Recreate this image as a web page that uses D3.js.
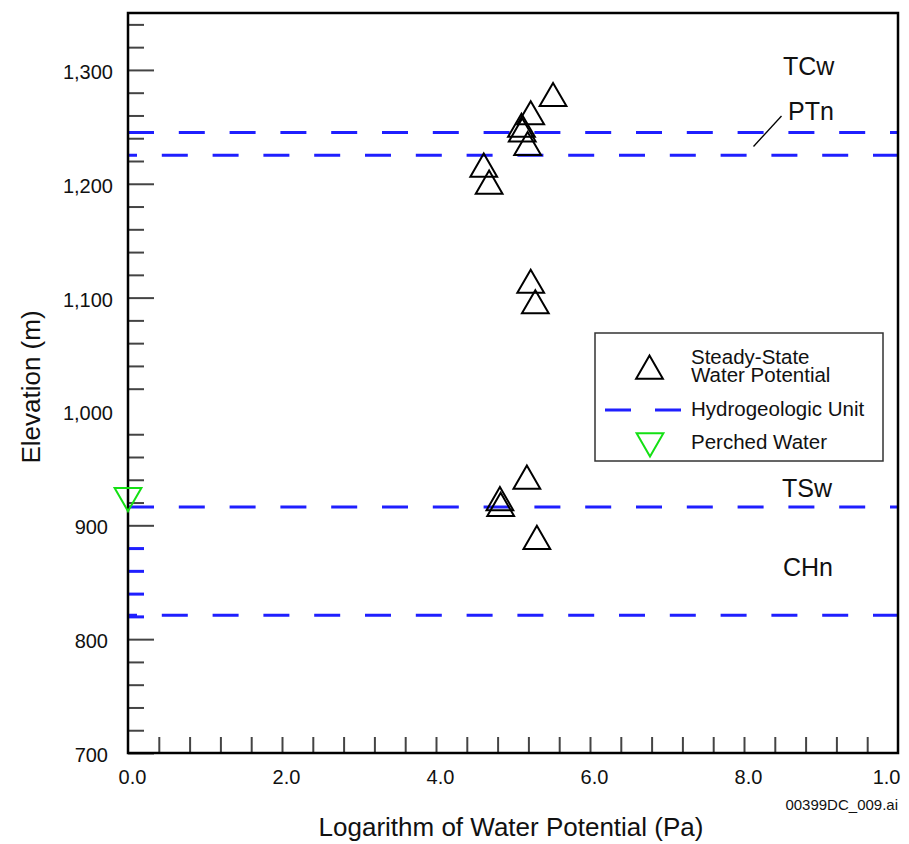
<!DOCTYPE html>
<html lang="en">
<meta charset="utf-8">
<style>
    html, body {
        margin: 0;
        padding: 0;
        background: #fff;
    }
    svg {
        display: block;
        font-family: "Liberation Sans", Arial, sans-serif;
    }
</style>
<body>
<svg id="svg" width="909" height="844"></svg>
<script src="https://cdn.jsdelivr.net/npm/d3@7"></script>
<script>
    // steady-state water potential samples (log Pa vs elevation m)
    var steadyLogPa = [5.52, 5.23, 5.11, 5.12, 5.19, 4.62, 4.69, 5.23, 5.29, 5.18, 4.83, 4.84, 5.31];
    var steadyElev  = [1275, 1259, 1248, 1244, 1232, 1213, 1198, 1111, 1093, 939, 920, 915, 886];

    // perched water
    var perchedLogPa = [0.0];
    var perchedElev  = [926];

    // hydrogeologic unit contacts and unit names
    var unitContacts = [1245, 1225, 916, 821];
    var unitNames = ["TCw", "PTn", "TSw", "CHn"];

    // axis ticks
    var yMajorTicks = [700, 800, 900, 1000, 1100, 1200, 1300];
    var yMinorTicks = d3.range(700, 1350, 20);
    var yBlueTicks = [820, 840, 860, 880];
    var xMajorTicks = [0, 2, 4, 6, 8, 10];
    var xTickLabels = ["0.0", "2.0", "4.0", "6.0", "8.0", "1.0"];
    var xMinorTicks = d3.range(0, 26).map(i => +(i * 0.4).toFixed(1));

    var legendLabels = [["Steady-State", "Water Potential"], ["Hydrogeologic Unit"], ["Perched Water"]];

    var blue = "#1f1fff", green = "#14e014";

    var svg = d3.select("svg"),
        margin = {top: 13, right: 11, bottom: 91, left: 128},
        width = +svg.attr("width") - margin.left - margin.right,
        height = +svg.attr("height") - margin.top - margin.bottom;

    var x = d3.scaleLinear().domain([0, 10]).range([margin.left, margin.left + width]);
    var y = d3.scaleLinear().domain([700, 1350]).range([margin.top + height, margin.top]);

    // unit contact lines
    var dashOffsets = [0, 17, 0, 17];
    svg.append("g")
        .selectAll("line").data(unitContacts).enter().append("line")
            .attr("x1", x(0)).attr("x2", x(10))
            .attr("y1", d => y(d)).attr("y2", d => y(d))
            .attr("stroke", blue)
            .attr("stroke-width", 3)
            .attr("stroke-dasharray", "26 24.8")
            .attr("stroke-dashoffset", (d, i) => dashOffsets[i]);

    // y axis ticks (inside)
    var yMinor = svg.append("g")
        .attr("transform", `translate(${x(0)},0)`)
        .call(d3.axisRight(y).tickValues(yMinorTicks.filter(d => d % 100 != 0)).tickSize(16).tickSizeOuter(0).tickFormat(""));
    yMinor.select(".domain").remove();
    yMinor.selectAll(".tick line").attr("stroke", "#444").attr("stroke-width", 2);
    yMinor.selectAll(".tick").filter(d => yBlueTicks.indexOf(d) >= 0)
        .select("line").attr("stroke", blue).attr("stroke-width", 3);

    var yMajor = svg.append("g")
        .attr("transform", `translate(${x(0)},0)`)
        // no tick at 1,000 in the original
        .call(d3.axisRight(y).tickValues(yMajorTicks.filter(d => d != 1000)).tickSize(26).tickSizeOuter(0).tickFormat(""));
    yMajor.select(".domain").remove();
    yMajor.selectAll(".tick line").attr("stroke", "#444").attr("stroke-width", 2);

    var yLabels = svg.append("g")
        .attr("transform", `translate(${x(0)},0)`)
        .call(d3.axisLeft(y).tickValues(yMajorTicks).tickSize(0).tickPadding(15).tickFormat(d3.format(",")));
    yLabels.select(".domain").remove();
    yLabels.attr("font-size", 20).attr("font-family", null);
    yLabels.selectAll("text").attr("fill", "#111").attr("dy", "0.42em")
        .attr("dx", d => d < 1000 ? -5 : 0);

    // x axis ticks (inside)
    var xMinor = svg.append("g")
        .attr("transform", `translate(0,${y(700)})`)
        .call(d3.axisTop(x).tickValues(xMinorTicks.slice(1, -1)).tickSize(16).tickSizeOuter(0).tickFormat(""));
    xMinor.select(".domain").remove();
    xMinor.selectAll(".tick line").attr("stroke", "#444").attr("stroke-width", 2);

    var xLabels = svg.append("g")
        .attr("transform", `translate(0,${y(700)})`)
        .call(d3.axisBottom(x).tickValues(xMajorTicks).tickSize(0).tickPadding(0).tickFormat((d, i) => xTickLabels[i]));
    xLabels.select(".domain").remove();
    xLabels.attr("font-size", 20).attr("font-family", null);
    xLabels.selectAll("text").attr("fill", "#111").attr("y", 31).attr("dy", null).attr("dx", 4);
    xLabels.selectAll(".tick").filter(d => d == 10).select("text")
        .attr("text-anchor", "end").attr("dx", 2);

    // frame
    svg.append("rect")
        .attr("x", x(0)).attr("y", y(1350))
        .attr("width", x(10) - x(0)).attr("height", y(700) - y(1350))
        .attr("fill", "none").attr("stroke", "#000").attr("stroke-width", 2.5);

    // steady-state points
    var triUp = d3.symbol().type(d3.symbolTriangle).size(310);
    svg.append("g")
        .selectAll("path").data(steadyLogPa).enter().append("path")
            .attr("d", triUp)
            .attr("transform", (d, i) => `translate(${x(d)},${y(steadyElev[i])})`)
            .attr("fill", "none")
            .attr("stroke", "#000")
            .attr("stroke-width", 2);

    // perched water
    svg.append("g")
        .selectAll("path").data(perchedLogPa).enter().append("path")
            .attr("d", triUp)
            .attr("transform", (d, i) => `translate(${x(d)},${y(perchedElev[i])}) rotate(180)`)
            .attr("fill", "none")
            .attr("stroke", green)
            .attr("stroke-width", 2);

    // unit labels
    var unitPos = [[783, 75], [788, 120], [782, 497], [783, 576]];
    svg.append("g")
        .selectAll("text").data(unitNames).enter().append("text")
            .attr("x", (d, i) => unitPos[i][0])
            .attr("y", (d, i) => unitPos[i][1])
            .attr("font-size", 25)
            .attr("fill", "#111")
            .text(d => d);

    svg.append("line")
        .attr("x1", 781.5).attr("y1", 116)
        .attr("x2", 753.5).attr("y2", 146.5)
        .attr("stroke", "#000").attr("stroke-width", 1.3);

    // legend
    var legend = svg.append("g");
    legend.append("rect")
        .attr("x", 595).attr("y", 333)
        .attr("width", 288).attr("height", 128)
        .attr("fill", "#fff").attr("stroke", "#333").attr("stroke-width", 1.5);

    legend.append("path")
        .attr("d", triUp)
        .attr("transform", "translate(649.5,371)")
        .attr("fill", "none").attr("stroke", "#000").attr("stroke-width", 2);

    legend.append("line")
        .attr("x1", 605).attr("x2", 682)
        .attr("y1", 410).attr("y2", 410)
        .attr("stroke", blue).attr("stroke-width", 3)
        .attr("stroke-dasharray", "26 24");

    legend.append("path")
        .attr("d", triUp)
        .attr("transform", "translate(650,441) rotate(180)")
        .attr("fill", "none").attr("stroke", green).attr("stroke-width", 2);

    var legendY = [363.5, 415.5, 449];
    legendLabels.forEach(function(lines, i) {
        var t = legend.append("text")
            .attr("x", 691).attr("y", legendY[i])
            .attr("font-size", 20.5)
            .attr("fill", "#111");
        lines.forEach(function(s, j) {
            t.append("tspan").attr("x", 691).attr("dy", j ? 18.5 : 0).text(s);
        });
    });

    // axis titles
    svg.append("text")
        .attr("x", 511).attr("y", 836)
        .attr("text-anchor", "middle")
        .attr("font-size", 26)
        .attr("fill", "#111")
        .text("Logarithm of Water Potential (Pa)");

    svg.append("text")
        .attr("transform", "translate(40,387) rotate(-90)")
        .attr("text-anchor", "middle")
        .attr("font-size", 26)
        .attr("fill", "#111")
        .text("Elevation (m)");

    svg.append("text")
        .attr("x", 898).attr("y", 810)
        .attr("text-anchor", "end")
        .attr("font-size", 15)
        .attr("fill", "#111")
        .text("00399DC_009.ai");
</script>
</body>
</html>
